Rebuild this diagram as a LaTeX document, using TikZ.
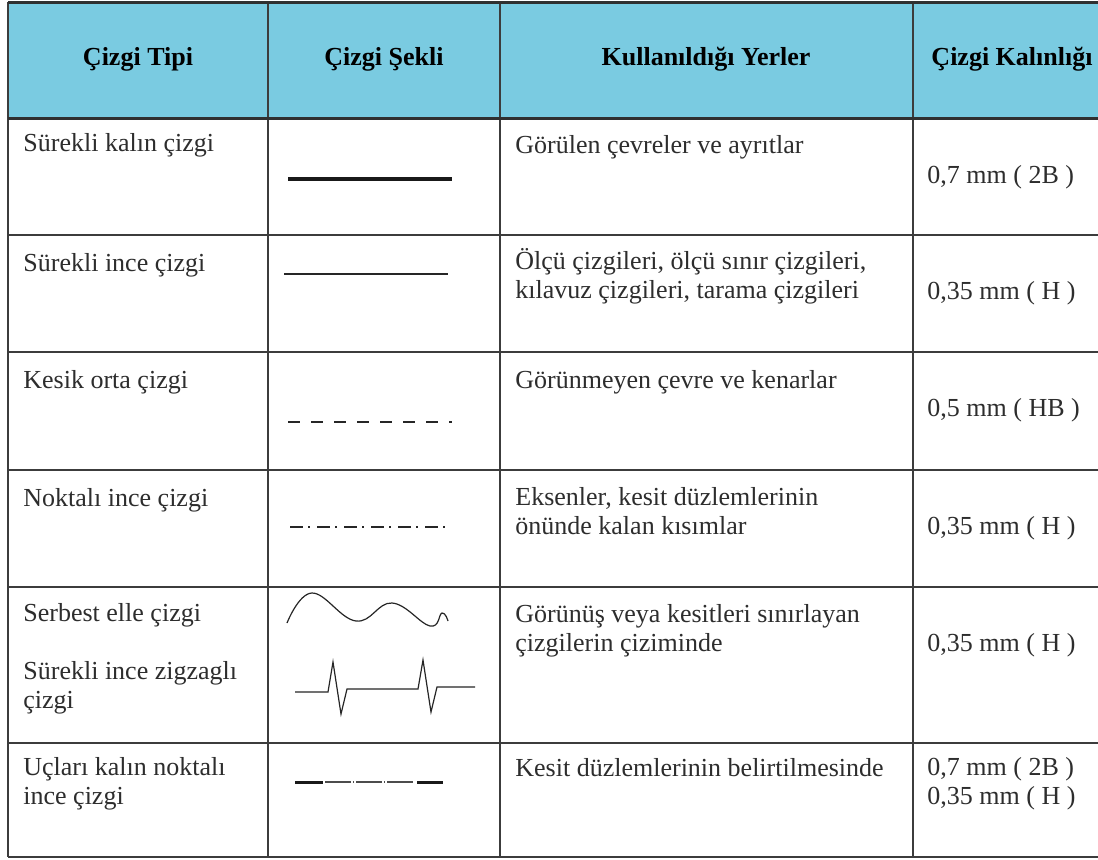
\documentclass[tikz,border=0pt]{standalone}
\usepackage{fontspec}
\setmainfont{Liberation Serif}
\usepackage{tikz}
\usetikzlibrary{calc,positioning}
\definecolor{baslik}{RGB}{122,203,225}
\definecolor{cerceve}{RGB}{60,60,60}
\definecolor{yazi}{RGB}{45,45,45}

\begin{document}
\begin{tikzpicture}[x=0.5pt,y=-0.5pt]
  \tikzstyle{hucre} = [inner sep=0pt, anchor=base west, align=left, text=yazi, font=\fontsize{13}{14.5}\selectfont]
  \tikzstyle{baslikyazi} = [inner sep=0pt, anchor=base, font=\fontsize{13}{14.5}\selectfont\bfseries]
  \tikzstyle{izgara} = [draw=cerceve, line width=0.75pt]
  \tikzstyle{kalinizgara} = [draw=cerceve!80!black, line width=1.5pt]
  \tikzstyle{cizgi} = [draw=black!85, line width=0.6pt]
  \useasboundingbox (0,0) rectangle (1098,859);
  \fill[white] (0,0) rectangle (1098,859);
  \fill[baslik] (8,2) rectangle (1098,118);

  % tablo izgarasi
  \foreach \y in {235,352,470,587,743,857}
    \draw[izgara] (8,\y) -- (1098,\y);
  \foreach \x in {8,268,500,913}
    \draw[izgara] (\x,2) -- (\x,857);
  \draw[kalinizgara] (8,2) -- (1098,2);
  \draw[kalinizgara] (8,118) -- (1098,118);

  % basliklar
  \node[baslikyazi] (tipi) at (138,65) {Çizgi Tipi};
  \node[baslikyazi] (sekli) at (384,65) {Çizgi Şekli};
  \node[baslikyazi] (yerler) at (706,65) {Kullanıldığı Yerler};
  \node[baslikyazi] (kalinlik) at (1012,65) {Çizgi Kalınlığı};

  % 1. satir
  \node[hucre] (tipi1) at (23,151) {Sürekli kalın çizgi};
  \draw[draw=black!90, line width=2pt] (288,179) -- (452,179);
  \node[hucre] (yer1) at (515,153) {Görülen çevreler ve ayrıtlar};
  \node[hucre] (kal1) at (927,183) {0,7 mm ( 2B )};

  % 2. satir (cok satirli dugumler son satirin tabanina gore)
  \node[hucre] (tipi2) at (23,271) {Sürekli ince çizgi};
  \draw[cizgi] (284,274) -- (448,274);
  \node[hucre] (yer2) at (515,298) {Ölçü çizgileri, ölçü sınır çizgileri,\\kılavuz çizgileri, tarama çizgileri};
  \node[hucre] (kal2) at (927,299) {0,35 mm ( H )};

  % 3. satir
  \node[hucre] (tipi3) at (23,388) {Kesik orta çizgi};
  \draw[draw=black!85, line width=1pt, dash pattern=on 6pt off 5.5pt] (288,422) -- (452,422);
  \node[hucre] (yer3) at (515,388) {Görünmeyen çevre ve kenarlar};
  \node[hucre] (kal3) at (927,416) {0,5 mm ( HB )};

  % 4. satir
  \node[hucre] (tipi4) at (23,506) {Noktalı ince çizgi};
  \draw[draw=black!85, line width=0.8pt, dash pattern=on 6.5pt off 2.5pt on 1pt off 3.5pt] (290,527) -- (452,527);
  \node[hucre] (yer4) at (515,534) {Eksenler, kesit düzlemlerinin\\önünde kalan kısımlar};
  \node[hucre] (kal4) at (927,534) {0,35 mm ( H )};

  % 5. satir
  \node[hucre] (tipi5a) at (23,621) {Serbest elle çizgi};
  \node[hucre] (tipi5b) at (23,708) {Sürekli ince zigzaglı\\çizgi};
  \draw[cizgi] plot[smooth, tension=0.7] coordinates {(287,623) (312,593) (356,621) (392,603) (430,626) (442,613) (448,621)};
  \draw[cizgi] (295,692) -- (328,692) -- (333,662) -- (341,714) -- (347,689) -- (418,689)
    -- (423,660) -- (431,712) -- (437,687) -- (475,687);
  \node[hucre] (yer5) at (515,651) {Görünüş veya kesitleri sınırlayan\\çizgilerin çiziminde};
  \node[hucre] (kal5) at (927,651) {0,35 mm ( H )};

  % 6. satir
  \node[hucre] (tipi6) at (23,804) {Uçları kalın noktalı\\ince çizgi};
  \draw[draw=black!90, line width=1.5pt] (295,782) -- (323,782);
  \draw[draw=black!70, line width=0.6pt, dash pattern=on 13pt off 1pt on 0.5pt off 1pt] (325,782) -- (415,782);
  \draw[draw=black!90, line width=1.5pt] (417,782) -- (443,782);
  \node[hucre] (yer6) at (515,776) {Kesit düzlemlerinin belirtilmesinde};
  \node[hucre] (kal6) at (927,804) {0,7 mm ( 2B )\\0,35 mm ( H )};
\end{tikzpicture}
\end{document}
